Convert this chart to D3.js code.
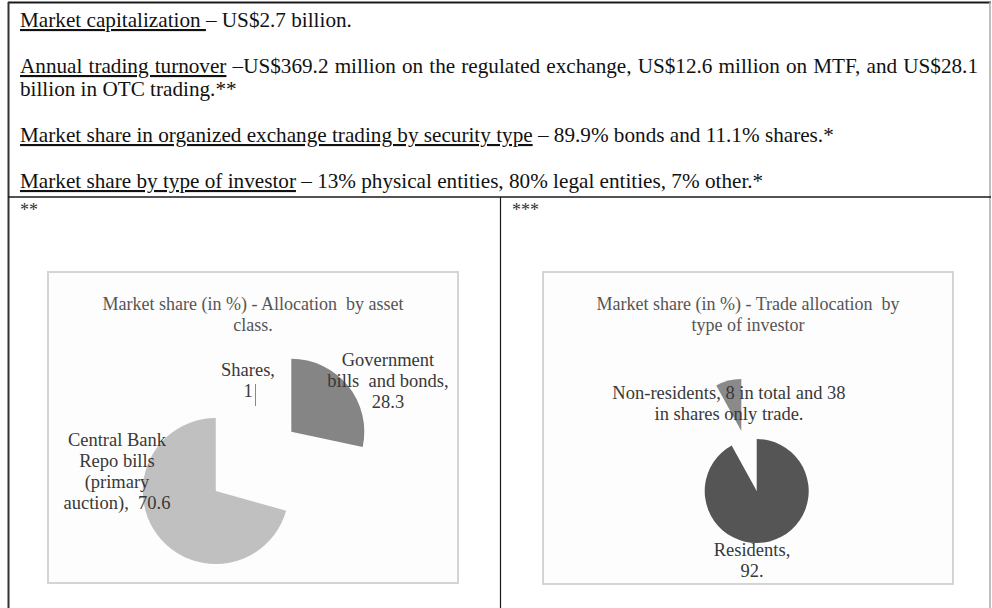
<!DOCTYPE html>
<html><head><meta charset="utf-8">
<script src="https://cdn.jsdelivr.net/npm/d3@7"></script>
<style>
html,body{margin:0;padding:0;background:#fff;}
svg{display:block;}
text{font-family:"Liberation Serif","Times New Roman",serif;white-space:pre;}
</style></head>
<body>
<svg id="c" width="992" height="608"></svg>
<script>
// ---- data ----
const assetCategories = ["Government bills and bonds", "Shares", "Central Bank Repo bills (primary auction)"];
const assetValues = [28.3, 1, 70.6];
const assetLabels = [["Government", "bills  and bonds,", "28.3"], ["Shares,", "1"], ["Central Bank", "Repo bills", "(primary", "auction),  70.6"]];
const investorCategories = ["Residents", "Non-residents"];
const investorValues = [92, 8];
const investorLabels = [["Residents,", "92."], ["Non-residents, 8 in total and 38", "in shares only trade."]];
const chartTitles = [["Market share (in %) - Allocation  by asset", "class."], ["Market share (in %) - Trade allocation  by", "type of investor"]];
const paragraphs = [
  [[{u:true,t:"Market capitalization "},{u:false,t:"– US$2.7 billion."}]],
  [[{u:true,t:"Annual trading turnover"},{u:false,t:" –US$369.2 million on the regulated exchange, US$12.6 million on MTF, and US$28.1"}],
   [{u:false,t:"billion in OTC trading.**"}]],
  [[{u:true,t:"Market share in organized exchange trading by security type"},{u:false,t:" – 89.9% bonds and 11.1% shares.*"}]],
  [[{u:true,t:"Market share by type of investor"},{u:false,t:" – 13% physical entities, 80% legal entities, 7% other.*"}]]
];
const footnoteMarks = ["**", "***"];

const svg = d3.select("#c");

// ---- table frame ----
const rowLineY = 197, divX = 500.5;
svg.append("line").attr("x1",8).attr("x2",991).attr("y1",2.5).attr("y2",2.5).attr("stroke","#1a1a1a").attr("stroke-width",2);
svg.append("line").attr("x1",8.5).attr("x2",8.5).attr("y1",2).attr("y2",608).attr("stroke","#333").attr("stroke-width",2);
svg.append("line").attr("x1",990).attr("x2",990).attr("y1",2).attr("y2",608).attr("stroke","#aaa").attr("stroke-width",1.5);
svg.append("line").attr("x1",8).attr("x2",991).attr("y1",rowLineY).attr("y2",rowLineY).attr("stroke","#1a1a1a").attr("stroke-width",1.5);
svg.append("line").attr("x1",divX).attr("x2",divX).attr("y1",rowLineY).attr("y2",608).attr("stroke","#1a1a1a").attr("stroke-width",1.2);

// ---- paragraphs (justified like the source document) ----
const pitch = 23, textLeft = 20, textRight = 978;
let lineIdx = 0;
paragraphs.forEach(p => {
  p.forEach((line, li) => {
    const t = svg.append("text").attr("x",textLeft).attr("y",27 + lineIdx*pitch)
      .attr("font-size",21.2).attr("fill","#111");
    line.forEach(seg => {
      const ts = t.append("tspan").text(seg.t);
      if (seg.u) ts.style("text-decoration","underline");
    });
    if (li < p.length - 1) {
      const full = line.map(s=>s.t).join("");
      const spaces = (full.match(/ /g) || []).length;
      const w = t.node().getComputedTextLength();
      t.attr("word-spacing", ((textRight - textLeft) - w) / spaces);
    }
    lineIdx++;
  });
  lineIdx++; // blank paragraph
});

// footnote marks
footnoteMarks.forEach((m,i) => {
  svg.append("text").attr("x", i===0 ? 20 : 512).attr("y", 216).attr("font-size",18).attr("fill","#333").text(m);
});

// ---- chart boxes ----
const boxes = [{x:48,y:272,w:410,h:311},{x:543,y:272,w:410,h:312}];
boxes.forEach((b,i) => {
  svg.append("rect").attr("x",b.x).attr("y",b.y).attr("width",b.w).attr("height",b.h)
    .attr("fill","#fdfdfd").attr("stroke","#d4d4d4").attr("stroke-width",2);
  const cx = b.x + b.w/2;
  chartTitles[i].forEach((l,j) => {
    svg.append("text").attr("x",cx).attr("y",b.y + 38 + j*21).attr("text-anchor","middle")
      .attr("font-size",18).attr("fill","#555").text(l);
  });
});

function drawPie(vals, colors, cx, cy, r, offset) {
  const pie = d3.pie().sort(null).value(d=>d)(vals);
  const arc = d3.arc().innerRadius(0).outerRadius(r);
  const g = svg.append("g").attr("transform",`translate(${cx},${cy})`);
  g.selectAll("path").data(pie).join("path")
    .attr("d", arc)
    .attr("fill", (d,i)=>colors[i])
    .attr("transform", d => {
      const a = (d.startAngle + d.endAngle)/2;
      return `translate(${offset*Math.sin(a)},${-offset*Math.cos(a)})`;
    });
  return g;
}

// left pie (Shares slice is practically invisible in the source)
drawPie(assetValues, ["#858585","#fdfdfd","#c0c0c0"], 254, 462, 73, 48);
// right pie
drawPie(investorValues, ["#555555","#8a8a8a"], 749, 461, 52, 31);

function label(lines, x, y, lh) {
  lines.forEach((l,j) => {
    svg.append("text").attr("x",x).attr("y",y + j*lh).attr("text-anchor","middle")
      .attr("font-size",18.5).attr("fill","#383838").text(l);
  });
}
label(assetLabels[0], 388, 366, 21);
label(assetLabels[1], 248, 376, 21);
svg.append("line").attr("x1",255.5).attr("x2",255.5).attr("y1",384).attr("y2",406).attr("stroke","#888").attr("stroke-width",1);
label(assetLabels[2], 117, 446, 21);
label(investorLabels[1], 729, 399, 21);
label(investorLabels[0], 752, 556, 21);
</script>
</body></html>
